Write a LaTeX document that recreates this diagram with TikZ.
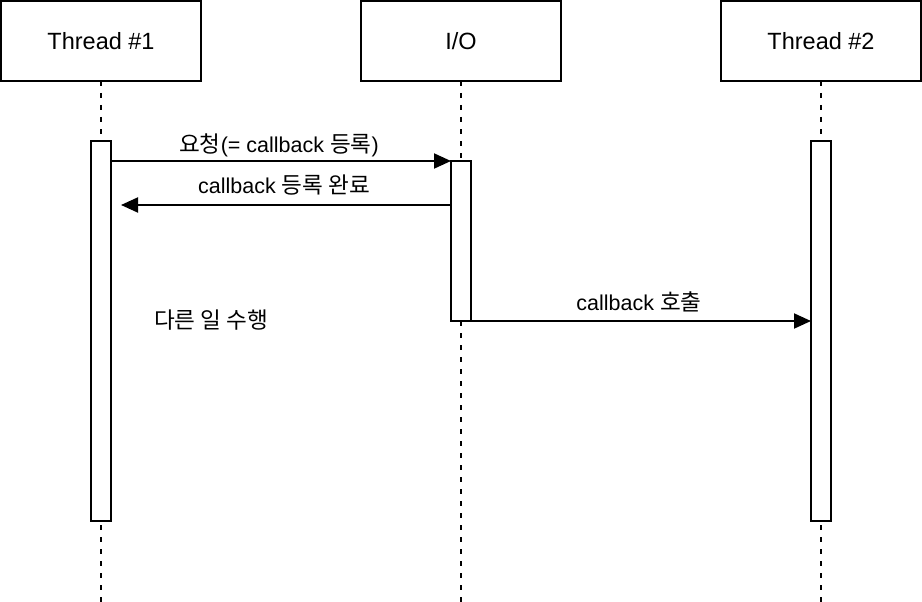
\documentclass[tikz,border=0pt]{standalone}
\usepackage{fontspec}
\setmainfont{Liberation Sans}
\newfontfamily\krfont[Scale=1.05]{Noto Sans CJK KR}
\newcommand{\kr}[1]{{\krfont #1}}
\usetikzlibrary{arrows.meta}
\begin{document}
\begin{tikzpicture}[x=1pt,y=-1pt,
  every node/.style={inner sep=0pt,outer sep=0pt},
  headbox/.style={draw,line width=2pt,minimum width=200pt,minimum height=80pt,font=\fontsize{23.5}{27}\selectfont},
  lifeline/.style={line width=2pt,dash pattern=on 5pt off 7pt},
  actbar/.style={draw,fill=white,line width=2pt},
  msg/.style={line width=2pt,-{Triangle[length=17pt,width=15pt]}},
  lbl/.style={anchor=base,font=\fontsize{21.5}{25}\selectfont}]
\useasboundingbox (0,0) rectangle (922,602);
% heads
\node[headbox] (h1) at (101,41) {Thread \#1};
\node[headbox] (h2) at (461,41) {I/O};
\node[headbox] (h3) at (821,41) {Thread \#2};
% lifeline ends
\coordinate (e1) at (101,602);
\coordinate (e2) at (461,602);
\coordinate (e3) at (821,602);
\draw[lifeline] (h1.south) -- (e1);
\draw[lifeline] (h2.south) -- (e2);
\draw[lifeline] (h3.south) -- (e3);
% activation bars
\draw[actbar] (91,141) rectangle (111,521);
\draw[actbar] (451,161) rectangle (471,321);
\draw[actbar] (811,141) rectangle (831,521);
\coordinate (a1) at (111,161);
\coordinate (b1) at (451,161);
\coordinate (b2) at (451,205);
\coordinate (a2) at (121,205);
\coordinate (b3) at (451,321);
\coordinate (c3) at (811,321);
\draw[msg] (a1) -- (b1);
\draw[msg] (b2) -- (a2);
\draw[msg] (b3) -- (c3);
% labels
\node[lbl] (l1) at (279,152) {\kr{요청}(= callback \kr{등록})};
\node[lbl] (l2) at (284,193) {callback \kr{등록 완료}};
\node[lbl] (l3) at (639,310) {callback \kr{호출}};
\node[font=\fontsize{21.5}{25}\selectfont] (t1) at (211,320) {\kr{다른 일 수행}};
\end{tikzpicture}
\end{document}
